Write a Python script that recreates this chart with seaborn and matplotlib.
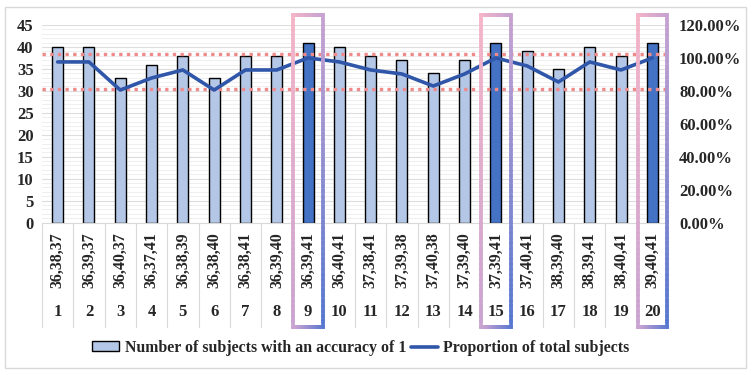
import matplotlib
matplotlib.use("Agg")
import matplotlib.pyplot as plt
import matplotlib.transforms as mtransforms
from matplotlib.collections import LineCollection
from matplotlib.patches import Rectangle, Patch
from matplotlib.lines import Line2D
import numpy as np
import pandas as pd
import seaborn as sns

# ---- data ----
sample_ids = [str(i) for i in range(1, 21)]
combos = ["36,38,37", "36,39,37", "36,40,37", "36,37,41", "36,38,39",
          "36,38,40", "36,38,41", "36,39,40", "36,39,41", "36,40,41",
          "37,38,41", "37,39,38", "37,40,38", "37,39,40", "37,39,41",
          "37,40,41", "38,39,40", "38,39,41", "38,40,41", "39,40,41"]
counts = [40, 40, 33, 36, 38, 33, 38, 38, 41, 40,
          38, 37, 34, 37, 41, 39, 35, 40, 38, 41]
proportion = [97.56, 97.56, 80.49, 87.80, 92.68, 80.49, 92.68, 92.68, 100.00, 97.56,
              92.68, 90.24, 82.93, 90.24, 100.00, 95.12, 85.37, 97.56, 92.68, 100.00]
highlighted = ["9", "15", "20"]
ref_lines_left = [38.3, 30.4]
left_ticks = [0, 5, 10, 15, 20, 25, 30, 35, 40, 45]
right_ticks = [0, 20, 40, 60, 80, 100, 120]
bar_label = "Number of subjects with an accuracy of 1"
line_label = "Proportion of total subjects"

# ---- style ----
sns.set_style("white")
plt.rcParams['font.family'] = ['Liberation Serif', 'DejaVu Serif']
plt.rcParams['font.weight'] = 'bold'

W, H = 755, 375
fig = plt.figure(figsize=(W / 100, H / 100), dpi=100)
L, R, T, B = 42, 668, 25, 222.5
ax = fig.add_axes([L / W, 1 - B / H, (R - L) / W, (B - T) / H])

light = "#B4C7E7"
dark = "#4472C4"
colors = [dark if s in highlighted else light for s in sample_ids]

df = pd.DataFrame({"sample": sample_ids, "count": counts, "prop": proportion})
sns.barplot(data=df, x="sample", y="count", hue="sample", palette=colors,
            legend=False, width=0.35, edgecolor="black", linewidth=1.0,
            saturation=1, ax=ax, zorder=3)
ax.set_xlim(-0.5, 19.5)
ax.set_ylim(0, 45)
ax.set_yticks(left_ticks)
ax.set_yticklabels([str(t) for t in left_ticks], fontsize=12, fontweight='bold')
ax.set_xticks([])
ax.set_xlabel("")
ax.set_ylabel("")
ax.tick_params(axis='y', length=0, pad=6)

# grid
for yv in np.arange(1, 45, 1):
    ax.axhline(yv, color="#EDEDED", lw=0.6, zorder=0)
for yv in left_ticks[1:]:
    ax.axhline(yv, color="#DDDDDD", lw=0.8, zorder=0)
for sp in ax.spines.values():
    sp.set_visible(False)

# reference dotted lines
for yv in ref_lines_left:
    ax.axhline(yv, color="#F08A8A", lw=2.4, ls=(0, (1, 1.3)), zorder=5)

# twin axis line
ax2 = ax.twinx()
xpos = np.arange(len(sample_ids))
sns.lineplot(x=xpos, y=proportion, color="#2F56A8", lw=2.6, ax=ax2, zorder=6)
ax2.set_ylim(0, 120)
ax2.set_yticks(right_ticks)
ax2.set_yticklabels([f"{t:.2f}%" for t in right_ticks], fontsize=12, fontweight='bold')
ax2.tick_params(axis='y', length=0, pad=8)
ax2.set_ylabel("")
ax2.set_xlim(-0.5, 19.5)
for sp in ax2.spines.values():
    sp.set_visible(False)

# category separators (plot + label area) and bottom axis line
blend = mtransforms.blended_transform_factory(ax.transData, fig.transFigure)
y_top = 1 - T / H
y_bot_lab = 1 - 327 / H
for b in np.arange(-0.5, 20, 1):
    fig.add_artist(Line2D([b, b], [y_top, y_bot_lab], transform=blend,
                          color="#D9D9D9", lw=0.8, zorder=0))
fig.add_artist(Line2D([-0.5, 19.5], [1 - B / H, 1 - B / H], transform=blend,
                      color="#D9D9D9", lw=0.8, zorder=1))

# two-level category labels
for i, (c, s) in enumerate(zip(combos, sample_ids)):
    fig.text(i, 1 - 260.5 / H, c, transform=blend, rotation=90, ha='center',
             va='center', fontsize=11.5, fontweight='bold')
    fig.text(i, 1 - 312.5 / H, s, transform=blend, ha='center', va='center',
             fontsize=12, fontweight='bold')

# gradient highlight rectangles
pink = np.array(matplotlib.colors.to_rgb("#F5B5C8"))
mid = np.array(matplotlib.colors.to_rgb("#C9A3D1"))
blue = np.array(matplotlib.colors.to_rgb("#5577D0"))


def grad(t):
    if t < 0.5:
        return pink + (mid - pink) * (t / 0.5)
    return mid + (blue - mid) * ((t - 0.5) / 0.5)


rect_top = 1 - 14.5 / H
rect_bot = 1 - 326.5 / H
for s in highlighted:
    i = sample_ids.index(s)
    x0, x1 = i - 0.47, i + 0.47
    n = 60
    segs, cols = [], []

    def add_edge(p0, p1, u0, v0, u1, v1):
        for k in range(n):
            a, b2 = k / n, (k + 1) / n
            xa = p0[0] + (p1[0] - p0[0]) * a
            ya = p0[1] + (p1[1] - p0[1]) * a
            xb = p0[0] + (p1[0] - p0[0]) * b2
            yb = p0[1] + (p1[1] - p0[1]) * b2
            u = u0 + (u1 - u0) * (a + b2) / 2
            v = v0 + (v1 - v0) * (a + b2) / 2
            segs.append([(xa, ya), (xb, yb)])
            cols.append(grad((u + v) / 2))
    add_edge((x0, rect_top), (x1, rect_top), 0, 0, 1, 0)
    add_edge((x1, rect_top), (x1, rect_bot), 1, 0, 1, 1)
    add_edge((x1, rect_bot), (x0, rect_bot), 1, 1, 0, 1)
    add_edge((x0, rect_bot), (x0, rect_top), 0, 1, 0, 0)
    lc = LineCollection(segs, colors=cols, linewidths=2.6, transform=blend,
                        capstyle='projecting', zorder=10)
    fig.add_artist(lc)

# legend
handles = [Patch(facecolor=light, edgecolor="black", linewidth=1.0),
           Line2D([0], [0], color="#2F56A8", lw=2.6)]
fig.legend(handles, [bar_label, line_label], loc='center',
           bbox_to_anchor=(361 / W, 1 - 348 / H), ncol=2, frameon=False,
           prop={'size': 11.4, 'weight': 'bold'}, handlelength=1.7,
           handleheight=0.6, handletextpad=0.35, columnspacing=0.3)

# outer border
fig.add_artist(Rectangle((5 / W, 1 - 368 / H), 741 / W, 361 / H,
                         transform=fig.transFigure, fill=False,
                         edgecolor="#D9D9D9", lw=1.0))

fig.savefig("out.png", dpi=100)
